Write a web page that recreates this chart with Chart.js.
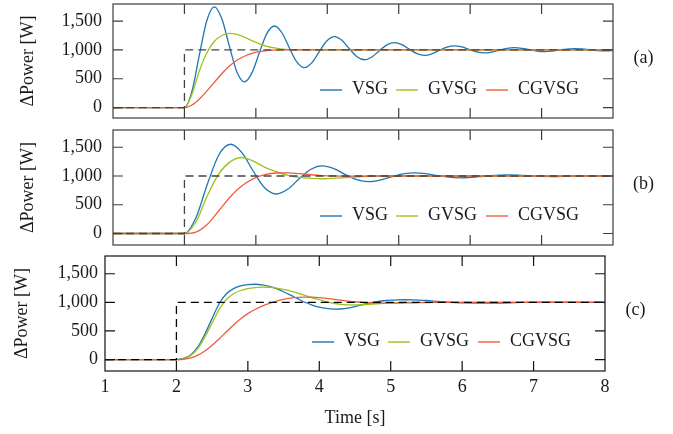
<!DOCTYPE html>
<html><head><meta charset="utf-8">
<script src="https://cdn.jsdelivr.net/npm/chart.js@4"></script>
<style>
html,body{margin:0;padding:0;background:#fff;}
#wrap{position:relative;width:673px;height:434px;overflow:hidden;background:#fff;}
canvas{position:absolute;left:0;}
</style></head><body>
<div id="wrap">
<canvas id="cA" width="673" height="125" style="top:0px"></canvas>
<canvas id="cB" width="673" height="125" style="top:125px"></canvas>
<canvas id="cC" width="673" height="184" style="top:250px"></canvas>
</div>
<script>
// ---------- data ----------
const seriesNames = ['VSG', 'GVSG', 'CGVSG'];
const xTickValues = [1, 2, 3, 4, 5, 6, 7, 8];
const xTickLabels = ['1', '2', '3', '4', '5', '6', '7', '8'];
const yTickValues = [0, 500, 1000, 1500];
const yTickLabels = ['0', '500', '1,000', '1,500'];
const stepTimes = [1, 2, 2, 8];
const stepValues = [0, 0, 1000, 1000];

// panel (a)
const timesA = [1, 2.000, 2.105, 2.210, 2.315, 2.420, 2.525, 2.630, 2.735, 2.840, 2.945, 3.050, 3.155, 3.260, 3.365, 3.470, 3.575, 3.680, 3.785, 3.890, 3.995, 4.100, 4.205, 4.310, 4.415, 4.520, 4.625, 4.730, 4.835, 4.940, 5.045, 5.150, 5.255, 5.360, 5.465, 5.570, 5.675, 5.780, 5.885, 5.990, 6.095, 6.200, 6.305, 6.410, 6.515, 6.620, 6.725, 6.830, 6.935, 7.040, 7.145, 7.250, 7.355, 7.460, 7.565, 7.670, 7.775, 7.880, 7.985, 8];
const vsgA = [0, 0, 282, 919, 1514, 1745, 1535, 1060, 617, 445, 601, 955, 1285, 1414, 1297, 1033, 787, 692, 779, 975, 1158, 1230, 1165, 1019, 882, 829, 877, 986, 1088, 1127, 1091, 1010, 935, 905, 932, 992, 1049, 1071, 1051, 1006, 964, 947, 962, 996, 1027, 1039, 1028, 1003, 980, 971, 979, 998, 1015, 1022, 1015, 1002, 989, 984, 988, 992];
const gvsgA = [0, 0, 230, 640, 950, 1150, 1250, 1285, 1268, 1222, 1160, 1105, 1062, 1033, 1015, 1006, 1002, 1000, 1000, 1000, 1000, 1000, 1000, 1000, 1000, 1000, 1000, 1000, 1000, 1000, 1000, 1000, 1000, 1000, 1000, 1000, 1000, 1000, 1000, 1000, 1000, 1000, 1000, 1000, 1000, 1000, 1000, 1000, 1000, 1000, 1000, 1000, 1000, 1000, 1000, 1000, 1000, 1000, 1000, 1000];
const cgvsgA = [0, 0, 45, 150, 290, 440, 590, 720, 820, 890, 940, 970, 988, 996, 1000, 1000, 1000, 1000, 1000, 1000, 1000, 1000, 1000, 1000, 1000, 1000, 1000, 1000, 1000, 1000, 1000, 1000, 1000, 1000, 1000, 1000, 1000, 1000, 1000, 1000, 1000, 1000, 1000, 1000, 1000, 1000, 1000, 1000, 1000, 1000, 1000, 1000, 1000, 1000, 1000, 1000, 1000, 1000, 1000, 1000];

// panel (b)
const timesB = [1, 2.000, 2.161, 2.322, 2.483, 2.644, 2.805, 2.966, 3.127, 3.288, 3.449, 3.610, 3.771, 3.932, 4.093, 4.254, 4.415, 4.576, 4.737, 4.898, 5.059, 5.220, 5.381, 5.542, 5.703, 5.864, 6.025, 6.186, 6.347, 6.508, 6.669, 6.830, 6.991, 7.152, 7.313, 7.474, 7.635, 7.796, 7.957, 8];
const vsgB = [0, 0, 275, 862, 1370, 1552, 1406, 1078, 791, 687, 773, 957, 1117, 1175, 1127, 1024, 935, 902, 929, 986, 1036, 1055, 1040, 1008, 980, 969, 978, 996, 1012, 1017, 1013, 1003, 992, 990, 993, 999, 1004, 1006, 1004, 1003];
const gvsgB = [0, 0, 200, 660, 1040, 1250, 1322, 1258, 1150, 1075, 1012, 975, 958, 952, 958, 972, 986, 995, 1000, 1000, 1000, 1000, 1000, 1000, 1000, 1000, 1000, 1000, 1000, 1000, 1000, 1000, 1000, 1000, 1000, 1000, 1000, 1000, 1000, 1000];
const cgvsgB = [0, 0, 25, 160, 400, 640, 830, 955, 1025, 1052, 1055, 1040, 1022, 1008, 1001, 998, 999, 1000, 1000, 1000, 1000, 1000, 1000, 1000, 1000, 1000, 1000, 1000, 1000, 1000, 1000, 1000, 1000, 1000, 1000, 1000, 1000, 1000, 1000, 1000];

// panel (c)
const timesC = [1, 2.0, 2.1, 2.2, 2.3, 2.4, 2.5, 2.6, 2.7, 2.8, 2.9, 3.0, 3.1, 3.2, 3.3, 3.4, 3.5, 3.6, 3.7, 3.8, 3.9, 4.0, 4.1, 4.2, 4.3, 4.4, 4.5, 4.6, 4.7, 4.8, 4.9, 5.0, 5.1, 5.2, 5.3, 5.4, 5.5, 5.6, 5.7, 5.8, 5.9, 6.0, 6.5, 7.0, 7.5, 8];
const vsgC = [0, 0, 20, 80, 220, 450, 720, 980, 1150, 1240, 1288, 1310, 1316, 1305, 1278, 1238, 1185, 1125, 1062, 1002, 952, 915, 893, 882, 884, 898, 925, 958, 990, 1012, 1028, 1038, 1043, 1045, 1044, 1040, 1032, 1022, 1012, 1003, 996, 991, 988, 1003, 1002, 1000];
const gvsgC = [0, 0, 18, 70, 195, 400, 640, 880, 1050, 1150, 1207, 1240, 1258, 1266, 1264, 1250, 1225, 1195, 1160, 1122, 1080, 1048, 1012, 984, 966, 957, 955, 958, 964, 972, 981, 989, 995, 999, 1000, 1001, 1001, 1000, 1000, 1000, 1000, 1000, 1000, 1000, 1000, 1000];
const cgvsgC = [0, 0, 5, 28, 78, 150, 250, 365, 487, 605, 712, 803, 875, 933, 982, 1022, 1052, 1073, 1086, 1091, 1090, 1083, 1070, 1054, 1038, 1023, 1010, 1000, 993, 988, 986, 986, 987, 989, 991, 994, 996, 998, 999, 1000, 1000, 1000, 1000, 1000, 1000, 1000];

// ---------- style ----------
const seriesColors = ['#1f76b0', '#9bc31c', '#f05c3e'];
const FONT = '"Liberation Serif", "Times New Roman", serif';
const TEXT = '#1a1a1a';

const panels = [
  { id: 'cA', times: timesA, series: [vsgA, gvsgA, cgvsgA], tag: '(a)', yMin: -180, yMax: 1795,
    pad: { top: 4, bottom: 7, right: 60 }, yWidth: 113, yTitlePad: 17.5, yTickPad: 11,
    showX: false, refColor: '#444', frameColor: '#3c3c3c', sepLine: true },
  { id: 'cB', times: timesB, series: [vsgB, gvsgB, cgvsgB], tag: '(b)', yMin: -200, yMax: 1800,
    pad: { top: 5, bottom: 5, right: 60 }, yWidth: 113, yTitlePad: 17.5, yTickPad: 11,
    showX: false, refColor: '#444', frameColor: '#3c3c3c', sepLine: false },
  { id: 'cC', times: timesC, series: [vsgC, gvsgC, cgvsgC], tag: '(c)', yMin: -200, yMax: 1810,
    pad: { top: 6, bottom: 0, right: 68 }, yWidth: 105, yTitlePad: 11, yTickPad: 7,
    showX: true, refColor: '#000', frameColor: '#111', sepLine: false }
];

const framePlugin = {
  id: 'frame',
  afterDatasetsDraw(chart, args, opts) {
    const { ctx, chartArea: { left, right, top, bottom }, scales: { x, y } } = chart;
    ctx.save();
    ctx.strokeStyle = opts.color;
    ctx.lineWidth = 1.2;
    ctx.strokeRect(left, top, right - left, bottom - top);
    ctx.beginPath();
    const L = 10;
    x.ticks.forEach(t => {
      const px = x.getPixelForValue(t.value);
      if (px <= left + 1 || px >= right - 1) return;
      ctx.moveTo(px, top); ctx.lineTo(px, top + L);
      ctx.moveTo(px, bottom); ctx.lineTo(px, bottom - L);
    });
    y.ticks.forEach(t => {
      const py = y.getPixelForValue(t.value);
      ctx.moveTo(left, py); ctx.lineTo(left + L, py);
      ctx.moveTo(right, py); ctx.lineTo(right - L, py);
    });
    ctx.stroke();
    if (opts.sepLine) {
      ctx.strokeStyle = '#c4c4c4';
      ctx.lineWidth = 1;
      ctx.beginPath();
      ctx.moveTo(left, bottom + 10); ctx.lineTo(right, bottom + 10);
      ctx.stroke();
    }
    ctx.restore();
  }
};

const legendOffsets = [207, 283, 373];
const legendPlugin = {
  id: 'inlegend',
  afterDraw(chart, args, opts) {
    const { ctx, chartArea: { left, right, top, bottom } } = chart;
    ctx.save();
    ctx.font = '18px ' + FONT;
    ctx.textBaseline = 'middle';
    ctx.textAlign = 'left';
    seriesNames.forEach((name, i) => {
      const x0 = left + legendOffsets[i];
      const y0 = top + 86;
      ctx.strokeStyle = seriesColors[i];
      ctx.lineWidth = 1.4;
      ctx.beginPath(); ctx.moveTo(x0, y0); ctx.lineTo(x0 + 22, y0); ctx.stroke();
      ctx.fillStyle = TEXT;
      ctx.fillText(name, x0 + 32, y0 - 1);
    });
    ctx.textAlign = 'center';
    ctx.fillText(opts.tag, right + 30.5, (top + bottom) / 2 - 3);
    ctx.restore();
  }
};

panels.forEach(p => {
  const datasets = [{
    data: stepTimes.map((t, i) => ({ x: t, y: stepValues[i] })),
    borderColor: p.refColor, borderWidth: 1.3, borderDash: [8, 5],
    pointRadius: 0, tension: 0, fill: false, isRef: true
  }];
  // draw order: first dataset on top, so add CGVSG, GVSG, VSG
  [2, 1, 0].forEach(i => {
    datasets.push({
      label: seriesNames[i],
      data: p.times.map((t, j) => ({ x: t, y: p.series[i][j] })),
      borderColor: seriesColors[i], borderWidth: 1.3,
      pointRadius: 0, cubicInterpolationMode: 'monotone', fill: false
    });
  });
  new Chart(document.getElementById(p.id), {
    type: 'line',
    data: { datasets },
    plugins: [framePlugin, legendPlugin],
    options: {
      responsive: false, animation: false, events: [],
      devicePixelRatio: 1,
      layout: { padding: { left: 0, right: p.pad.right, top: p.pad.top, bottom: p.pad.bottom } },
      plugins: {
        legend: { display: false }, tooltip: { enabled: false },
        frame: { color: p.frameColor, sepLine: p.sepLine },
        inlegend: { tag: p.tag }
      },
      scales: {
        x: {
          type: 'linear', min: 1, max: 8,
          afterBuildTicks: s => { s.ticks = xTickValues.map(v => ({ value: v })); },
          ticks: {
            display: p.showX, padding: 5, color: TEXT, font: { family: FONT, size: 18 },
            callback: v => xTickLabels[xTickValues.indexOf(v)]
          },
          grid: { display: false, drawTicks: false },
          border: { display: false },
          title: { display: p.showX, text: 'Time [s]', color: TEXT, font: { family: FONT, size: 18 }, padding: { top: 0, bottom: 5 } },
          afterFit: s => { s.height = p.showX ? 63 : 0; s.paddingLeft = 0; s.paddingRight = 0; }
        },
        y: {
          type: 'linear', min: p.yMin, max: p.yMax,
          afterBuildTicks: s => { s.ticks = yTickValues.map(v => ({ value: v })); },
          ticks: {
            padding: p.yTickPad, color: TEXT, font: { family: FONT, size: 18 },
            callback: v => yTickLabels[yTickValues.indexOf(v)]
          },
          grid: { display: false, drawTicks: false },
          border: { display: false },
          title: { display: true, text: '\u0394Power [W]', color: TEXT, font: { family: FONT, size: 18 }, padding: { top: p.yTitlePad, bottom: 0 } },
          afterFit: s => { s.width = p.yWidth; s.paddingTop = 0; s.paddingBottom = 0; }
        }
      }
    }
  });
});
</script>
</body></html>
